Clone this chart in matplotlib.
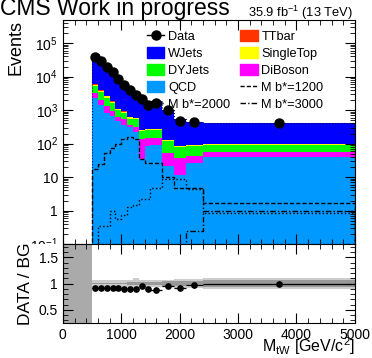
import numpy as np
import matplotlib
matplotlib.use("Agg")
import matplotlib.pyplot as plt
from matplotlib.lines import Line2D
from matplotlib.patches import Patch, Rectangle
from matplotlib.ticker import LogLocator, MultipleLocator, FuncFormatter, NullFormatter

plt.rcParams['font.family'] = ['Liberation Sans', 'DejaVu Sans']
plt.rcParams['mathtext.fontset'] = 'custom'
plt.rcParams['mathtext.rm'] = 'Liberation Sans'
plt.rcParams['mathtext.it'] = 'Liberation Sans:italic'

# M_tW binning [GeV]
edges = np.array([500, 600, 700, 800, 900, 1000, 1100, 1200, 1300, 1400,
                  1500, 1700, 1900, 2100, 2400, 5000])

data = [39000, 30000, 19000, 13500, 8500, 5800, 4000, 2800, 2100, 1400,
        1650, 980, 490, 440, 410]

# backgrounds, stacked bottom to top
qcd = [2230, 1380, 850, 690, 480, 350, 305, 218, 34, 83, 89, 21.5, 11.4, 27, 41]
diboson = [1020, 620, 440, 260, 125, 180, 45, 107, 100, 61, 55, 32.5, 26.6, 16, 17]
dyjets = [2000, 1480, 1010, 680, 375, 300, 200, 205, 106, 106, 106, 67, 41, 42, 33]
singletop = [570, 370, 260, 180, 110, 80, 55, 55, 17, 17, 17, 9, 4, 4, 4]
ttbar = [40, 28, 20, 14, 9, 7, 5, 4, 3, 3, 3, 2, 1, 1, 1]
wjets = [36530, 28730, 18300, 13020, 8240, 5520, 3830, 2560, 1950, 1290,
         1630, 890, 455, 365, 314]

# signal samples
sig_1200 = [17, 24, 54, 76, 100, 134, 160, 134, 34, 27, 27, 10, 4.6, 4.6, 1.64]
sig_2000 = [0, 0.35, 0.35, 1.0, 0.56, 0.73, 1.25, 1.46, 2.2, 2.2, 4.9, 8.6, 8.6, 4.3, 0.84]
sig_3000 = [0, 0, 0, 0, 0, 0, 0, 0, 0, 0, 0, 0, 0, 0.25, 1.0]

# relative uncertainty on the background (stat, total)
unc_stat = [0.01, 0.01, 0.01, 0.012, 0.015, 0.018, 0.02, 0.025, 0.03, 0.035,
            0.035, 0.045, 0.05, 0.05, 0.06]
unc_tot = [0.06, 0.06, 0.06, 0.06, 0.06, 0.065, 0.065, 0.1, 0.07, 0.07,
           0.07, 0.075, 0.08, 0.08, 0.11]

stack = [("QCD", qcd, "#0099ff"),
         ("DiBoson", diboson, "#ff00ff"),
         ("DYJets", dyjets, "#00ff00"),
         ("SingleTop", singletop, "#ffff00"),
         ("TTbar", ttbar, "#ff3300"),
         ("WJets", wjets, "#0000ff")]

widths = np.diff(edges)
centers = edges[:-1] + widths / 2
data = np.array(data, dtype=float)

fig = plt.figure(figsize=(3.72, 3.58), dpi=100)
ax = fig.add_axes([0.169, 0.318, 0.785, 0.626])
ax2 = fig.add_axes([0.169, 0.098, 0.785, 0.220])
ax2.set_zorder(2)

bottom = np.zeros(len(widths))
for name, vals, col in stack:
    ax.bar(edges[:-1], vals, widths, bottom=bottom, align='edge', color=col,
           linewidth=0)
    bottom = bottom + np.array(vals)
total = bottom
ax.stairs(total, edges, color='#000055', linestyle=':', linewidth=0.8)

for vals, ls in [(sig_1200, (0, (3, 1.5))), (sig_2000, ':'), (sig_3000, (0, (4, 1.5, 1, 1.5)))]:
    ax.stairs(np.clip(vals, 1e-3, None), edges, baseline=1e-3, color='black',
              linestyle=ls, linewidth=1.0)

ax.errorbar(centers, data, yerr=np.sqrt(data), fmt='o', color='black',
            markersize=6.5, elinewidth=1, capsize=0, zorder=5)

ax.set_yscale('log')
ax.set_xlim(0, 5000)
ax.set_ylim(0.1, 4.9e5)


def log_label(v, pos):
    if v == 1:
        return '1'
    if v == 10:
        return '10'
    return r'$10^{%d}$' % int(round(np.log10(v)))


ax.yaxis.set_major_locator(LogLocator(base=10, numticks=12))
ax.yaxis.set_minor_locator(LogLocator(base=10, subs=np.arange(2, 10), numticks=12))
ax.yaxis.set_major_formatter(FuncFormatter(log_label))
ax.yaxis.set_minor_formatter(NullFormatter())
ax.xaxis.set_major_locator(MultipleLocator(1000))
ax.xaxis.set_minor_locator(MultipleLocator(200))
ax.tick_params(axis='x', labelbottom=False)
for a in (ax, ax2):
    a.tick_params(which='both', direction='in', top=True, right=True, labelsize=10)
    a.tick_params(which='major', length=7, width=0.8)
    a.tick_params(which='minor', length=3.5, width=0.6)
ax.set_ylabel('Events', fontsize=13, loc='top', labelpad=4)

handles = [
    Line2D([], [], color='black', marker='o', markersize=6.5, linewidth=1),
    Patch(color='#0000ff'), Patch(color='#00ff00'), Patch(color='#0099ff'),
    Line2D([], [], color='black', linestyle=':', linewidth=1),
    Patch(color='#ff3300'), Patch(color='#ffff00'), Patch(color='#ff00ff'),
    Line2D([], [], color='black', linestyle=(0, (3, 1.5)), linewidth=1),
    Line2D([], [], color='black', linestyle=(0, (4, 1.5, 1, 1.5)), linewidth=1),
]
labels = ['Data', 'WJets', 'DYJets', 'QCD', 'M b*=2000',
          'TTbar', 'SingleTop', 'DiBoson', 'M b*=1200', 'M b*=3000']
ax.legend(handles, labels, ncol=2, loc='upper left', bbox_to_anchor=(0.288, 0.955),
          frameon=False, fontsize=9.2, borderpad=0, handlelength=1.35,
          handleheight=0.9, handletextpad=0.3, labelspacing=0.34,
          columnspacing=0.8, borderaxespad=0)

fig.text(0.0, 0.957, 'CMS Work in progress', fontsize=16.5, ha='left', va='baseline')
fig.text(0.950, 0.953, r'35.9 fb$^{-1}$ (13 TeV)', fontsize=9.3, ha='right', va='baseline')

# ratio panel
ax2.add_patch(Rectangle((0, 0), 0.169, 0.318, transform=fig.transFigure,
                        facecolor='white', edgecolor='none', clip_on=False, zorder=-5))
ax2.axvspan(0, edges[0], color='#aaaaaa', linewidth=0)
unc_tot = np.array(unc_tot)
unc_stat = np.array(unc_stat)
ax2.bar(edges[:-1], 2 * unc_tot, widths, bottom=1 - unc_tot, align='edge',
        color='#cccccc', linewidth=0)
ax2.bar(edges[:-1], 2 * unc_stat, widths, bottom=1 - unc_stat, align='edge',
        color='#999999', linewidth=0)
ratio = data / total
ax2.errorbar(centers, ratio, xerr=widths / 2, yerr=np.sqrt(data) / total, fmt='o',
             color='black', markersize=3.8, elinewidth=0.9, capsize=0, zorder=5)
ax2.set_xlim(0, 5000)
ax2.set_ylim(0.25, 1.75)
ax2.xaxis.set_major_locator(MultipleLocator(1000))
ax2.xaxis.set_minor_locator(MultipleLocator(200))
ax2.yaxis.set_major_locator(MultipleLocator(0.5))
ax2.yaxis.set_minor_locator(MultipleLocator(0.1))
ax2.yaxis.set_major_formatter(FuncFormatter(lambda v, p: '%g' % v))
ax2.set_ylabel('DATA / BG', fontsize=12.5, labelpad=4)
ax2.set_xlabel(r'M$_{\mathrm{tW}}$ [GeV/c$^{2}$]', fontsize=11.5)
ax2.xaxis.label.set_horizontalalignment('right')
ax2.xaxis.label.set_verticalalignment('baseline')
ax2.xaxis.set_label_coords(1.0, -0.375)

fig.savefig('out.png', dpi=100)
